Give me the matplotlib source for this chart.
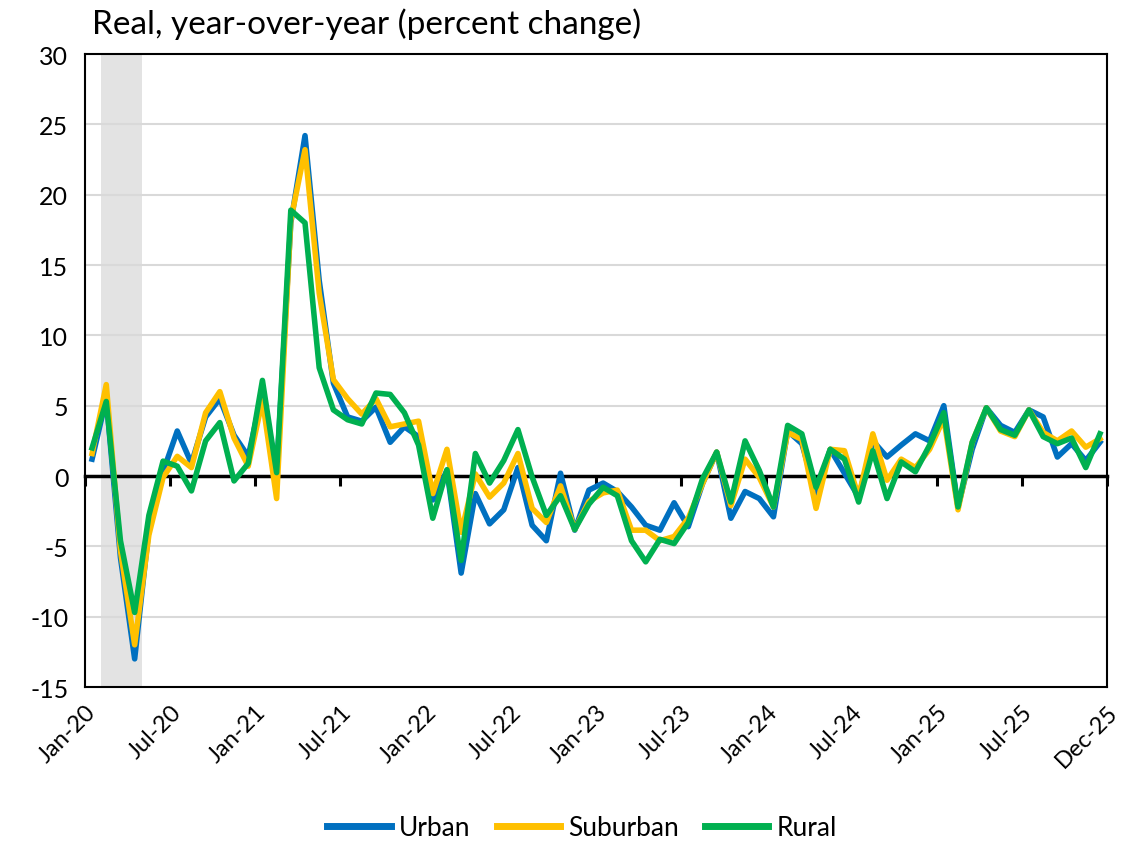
import matplotlib
matplotlib.use("Agg")
import matplotlib.pyplot as plt
import numpy as np

plt.rcParams['font.family'] = ['Lato', 'DejaVu Sans']
plt.rcParams['axes.unicode_minus'] = False

# monthly, Jan-20 .. Dec-25
urban = [1.2, 5.5, -5.8, -13.0, -3.8, 0.3, 3.2, 0.9, 4.2, 5.5, 2.9, 1.4,
         6.0, 0.2, 18.0, 24.2, 13.9, 6.6, 4.2, 3.9, 4.9, 2.4, 3.5, 2.8,
         -1.7, 0.4, -6.9, -1.25, -3.4, -2.4, 0.6, -3.5, -4.6, 0.2, -3.85, -1.0,
         -0.5, -1.1, -2.2, -3.5, -3.85, -1.9, -3.6, -0.55, 1.7, -3.0, -1.1, -1.6,
         -2.9, 3.2, 2.3, -1.25, 1.9, 0.2, -1.5, 2.5, 1.35, 2.2, 3.0, 2.5,
         5.0, -2.2, 1.9, 4.85, 3.6, 3.1, 4.7, 4.2, 1.35, 2.3, 1.1, 2.4]
suburban = [1.6, 6.5, -5.3, -12.0, -4.2, -0.1, 1.4, 0.6, 4.5, 6.0, 2.7, 0.7,
            5.4, -1.6, 18.2, 23.2, 13.0, 6.85, 5.5, 4.4, 5.5, 3.5, 3.7, 3.9,
            -1.25, 1.9, -4.0, 0.15, -1.5, -0.5, 1.6, -2.3, -3.3, -0.7, -3.8, -1.8,
            -1.2, -1.0, -3.85, -3.85, -4.6, -4.3, -3.0, -0.55, 1.7, -2.1, 1.2, -0.1,
            -2.2, 3.1, 2.6, -2.3, 1.9, 1.8, -1.5, 3.0, -0.3, 1.2, 0.6, 1.9,
            4.1, -2.4, 2.4, 4.85, 3.2, 2.8, 4.7, 3.1, 2.5, 3.2, 2.05, 2.65]
rural = [2.0, 5.3, -4.6, -9.7, -2.8, 1.06, 0.7, -1.06, 2.5, 3.8, -0.35, 0.9,
         6.8, 0.24, 18.9, 18.0, 7.7, 4.7, 4.0, 3.7, 5.9, 5.8, 4.5, 2.2,
         -3.0, 0.45, -6.0, 1.6, -0.5, 1.1, 3.3, -0.07, -2.8, -1.4, -3.8, -2.0,
         -0.8, -1.4, -4.6, -6.1, -4.5, -4.8, -3.3, -0.2, 1.7, -1.85, 2.5, 0.4,
         -2.2, 3.6, 3.0, -0.8, 1.9, 1.2, -1.85, 1.8, -1.6, 1.0, 0.3, 2.2,
         4.5, -2.2, 2.4, 4.85, 3.3, 2.9, 4.7, 2.8, 2.3, 2.7, 0.6, 3.0]

tick_labels = ['Jan-20', 'Jul-20', 'Jan-21', 'Jul-21', 'Jan-22', 'Jul-22',
               'Jan-23', 'Jul-23', 'Jan-24', 'Jul-24', 'Jan-25', 'Jul-25', 'Dec-25']
recession = (1, 3)  # Feb-20 .. Apr-20 (month index)

x = np.arange(len(urban))

fig = plt.figure(figsize=(11.3, 8.53), dpi=100)
ax = fig.add_axes([0.0752, 0.1934, 0.9045, 0.7421])

ax.axvspan(recession[0] - 0.38, recession[1] + 0.52, color='#E3E3E3', lw=0, zorder=0)
for v in [-10, -5, 5, 10, 15, 20, 25]:
    ax.axhline(v, color='#D9D9D9', lw=1.5, zorder=1)

ax.plot(x, urban, color='#0070C0', lw=4.0, label='Urban', zorder=3)
ax.plot(x, suburban, color='#FFC000', lw=4.0, label='Suburban', zorder=4)
ax.plot(x, rural, color='#00B050', lw=4.0, label='Rural', zorder=5)

ax.set_xlim(-0.5, len(x) - 0.5)
ax.set_ylim(-15, 30)
ax.set_yticks(range(-15, 31, 5))
ax.tick_params(axis='y', length=0, labelsize=18, pad=12)

ticks = list(np.arange(0, len(x), 6) - 0.5) + [len(x) - 0.5]
ax.set_xticks(ticks)
ax.set_xticklabels(tick_labels, rotation=45, ha='right', rotation_mode='anchor', fontsize=17)
ax.tick_params(axis='x', length=0, pad=10)

for s in ax.spines.values():
    s.set_linewidth(1.5)
    s.set_color('black')

# zero line with tick marks
zero = ax.secondary_xaxis(15 / 45)
zero.set_xticks(ticks)
zero.set_xticklabels([])
zero.tick_params(axis='x', direction='out', length=7, width=2.2, color='black')
zero.spines['bottom'].set_linewidth(2.5)
zero.spines['bottom'].set_zorder(2)

fig.text(0.081, 0.99, 'Real, year-over-year (percent change)', fontsize=24, va='top', ha='left')

leg = fig.legend(loc='lower center', ncol=3, frameon=False, fontsize=19,
                 bbox_to_anchor=(0.515, -0.014), handlelength=2.4, handletextpad=0.3,
                 columnspacing=1.0)
for h in leg.get_lines():
    h.set_linewidth(5)

fig.savefig('out.png', dpi=100)
